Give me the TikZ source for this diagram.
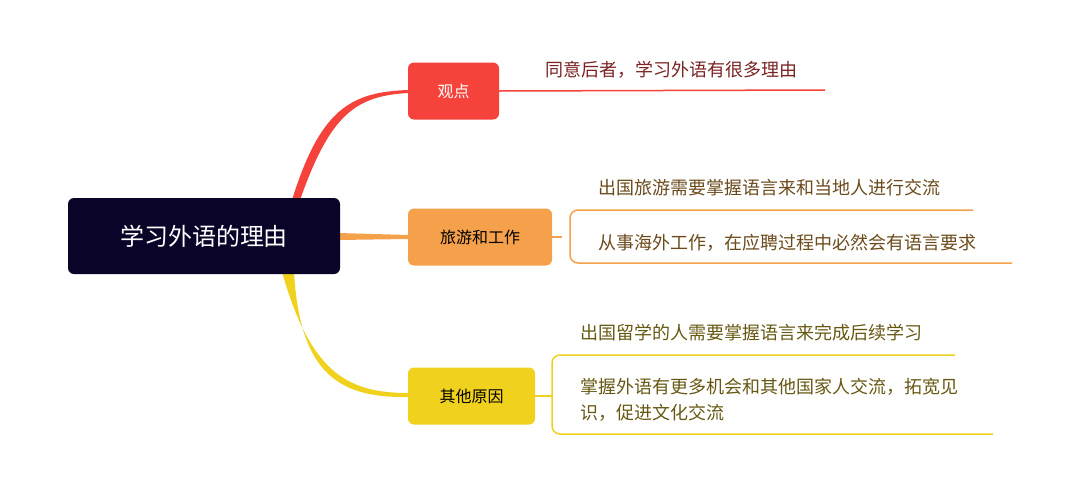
\documentclass[tikz,border=0pt]{standalone}
\usepackage{fontspec}
\setmainfont{Noto Sans CJK SC}
\definecolor{rootbg}{HTML}{0A0528}
\definecolor{redc}{HTML}{F5433B}
\definecolor{orangec}{HTML}{F5A04A}
\definecolor{yellowc}{HTML}{F0D21E}
\definecolor{redtxt}{HTML}{7A2222}
\definecolor{orangetxt}{HTML}{6B4A1C}
\definecolor{yellowtxt}{HTML}{665812}
\tikzset{
  topic/.style={rounded corners=6pt, minimum height=57pt, inner sep=0pt, font=\fontsize{16}{16}\selectfont},
  leaf/.style={anchor=west, inner sep=0pt, font=\fontsize{18}{26}\selectfont, align=left},
}
\begin{document}
\begin{tikzpicture}[x=1pt,y=-1pt]
\useasboundingbox (0,0) rectangle (1080,488);
% branches
\fill[redc] (292,200) .. controls (320,110) and (350,92) .. (408,90)
  -- (408,93) .. controls (355,96) and (330,115) .. (300,200) -- cycle;
\fill[orangec] (338,233) -- (408,235) -- (408,239) -- (338,240) -- cycle;
\fill[yellowc] (282,272) .. controls (310,370) and (345,393) .. (408,393)
  -- (408,397) .. controls (340,398) and (300,375) .. (294,272) -- cycle;
% topics
\node[topic, fill=rootbg, text=white, minimum width=272pt, minimum height=76pt,
  font=\fontsize{24}{24}\selectfont] (root) at (204,236) {学习外语的理由};
\node[topic, fill=redc, text=white, minimum width=91pt] (view) at (453.5,91) {观点};
\node[topic, fill=orangec, minimum width=144pt] (travel) at (480,237) {旅游和工作};
\node[topic, fill=yellowc, minimum width=127pt] (other) at (471.5,396) {其他原因};
% leaves: view
\coordinate (v1) at (825,90);
\draw[redc, line width=1.5pt] (view.east) -- (v1);
\node[leaf, text=redtxt] (vt) at (545,70) {同意后者，学习外语有很多理由};
% leaves: travel
\coordinate (t1) at (973,210);
\coordinate (t2) at (1012,263);
\draw[orangec, line width=1.5pt] (travel.east) -- (562,237);
\draw[orangec, line width=1.5pt, rounded corners=8pt] (t1) -- (570,210) -- (570,263) -- (t2);
\node[leaf, text=orangetxt] (tt1) at (598,188) {出国旅游需要掌握语言来和当地人进行交流};
\node[leaf, text=orangetxt] (tt2) at (598,243) {从事海外工作，在应聘过程中必然会有语言要求};
% leaves: other
\coordinate (o1) at (955,355);
\coordinate (o2) at (993,434);
\draw[yellowc, line width=1.5pt] (other.east) -- (552,396);
\draw[yellowc, line width=1.5pt, rounded corners=8pt] (o1) -- (552,355) -- (552,434) -- (o2);
\node[leaf, text=yellowtxt] (ot1) at (580,333) {出国留学的人需要掌握语言来完成后续学习};
\node[leaf, text=yellowtxt] (ot2) at (580,400) {掌握外语有更多机会和其他国家人交流，拓宽见\\识，促进文化交流};
\end{tikzpicture}
\end{document}
